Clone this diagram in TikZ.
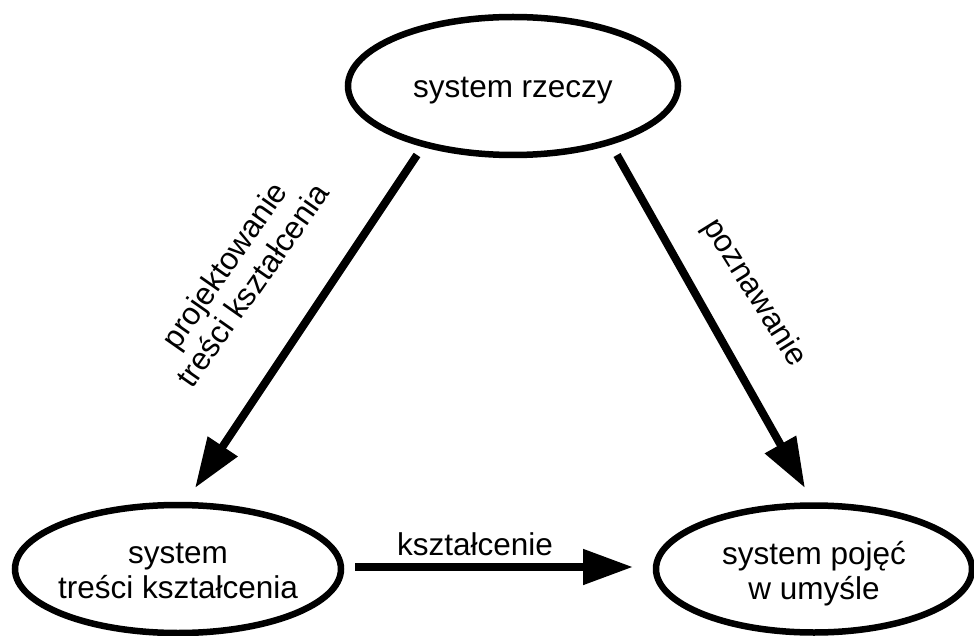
\documentclass[tikz,border=0pt]{standalone}
\usepackage{fontspec}
\setmainfont{Liberation Sans}
\usetikzlibrary{shapes.geometric,arrows.meta}
\begin{document}
\begin{tikzpicture}[x=1pt,y=-1pt,
  oval/.style={ellipse, draw, line width=6.5pt, inner sep=0pt},
  caption/.style={font=\fontsize{31.5}{35}\selectfont, align=center, inner sep=0pt},
  flow/.style={line width=8pt, -{Triangle[length=50pt,width=34pt]}},
]
\useasboundingbox (0,0) rectangle (974,636);

% the three systems
\node[oval, minimum width=330pt, minimum height=138pt,
  label={[caption,yshift=-5pt]center:system rzeczy}] (rzeczy) at (513,86) {};
\node[oval, minimum width=326pt, minimum height=128pt,
  label={[caption,yshift=-1.5pt]center:system\\treści kształcenia}] (tresci) at (178,569) {};
\node[oval, minimum width=316pt, minimum height=127pt,
  label={[caption,yshift=-5pt]center:system pojęć\\w umyśle}] (pojecia) at (814,569) {};

% arrow end points, kept clear of the ellipses
\coordinate (projA) at (417,155);
\coordinate (projB) at (195,488);
\coordinate (poznA) at (617,155);
\coordinate (poznB) at (805,488);
\coordinate (kszA) at (355,567);
\coordinate (kszB) at (633,567);

\draw[flow] (projA) -- (projB);
\draw[flow] (poznA) -- (poznB);
\draw[flow] (kszA) -- (kszB);

% arrow labels
\node[caption, rotate=55] (projLbl) at (238,275) {projektowanie\\treści kształcenia};
\node[caption, rotate=-58] (poznLbl) at (754,293) {poznawanie};
\node[caption, anchor=base] (kszLbl) at (475,555) {kształcenie};
\end{tikzpicture}
\end{document}
